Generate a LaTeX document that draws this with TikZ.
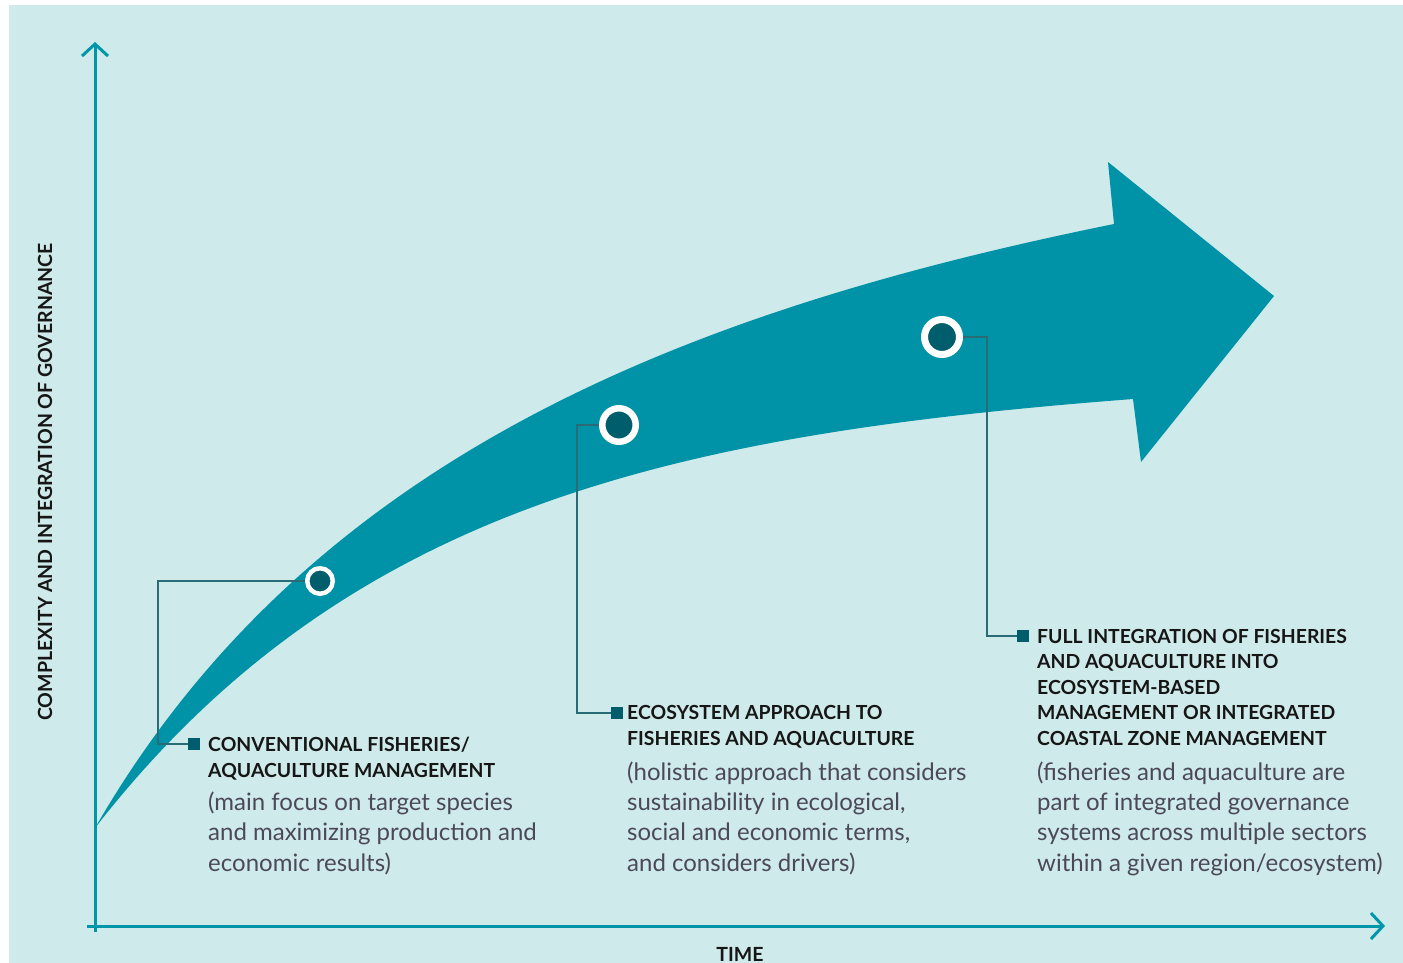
\documentclass[tikz,border=0pt]{standalone}
\usepackage{fontspec}
\setmainfont{Lato}
\usetikzlibrary{arrows.meta, positioning, calc}
\definecolor{bgteal}{HTML}{CFEAEA}
\definecolor{bandteal}{HTML}{0092A6}
\definecolor{axisteal}{HTML}{0096A9}
\definecolor{darkteal}{HTML}{005E6C}
\definecolor{leadteal}{HTML}{2A6C76}
\definecolor{bodygray}{HTML}{4B4959}
\definecolor{titleblack}{HTML}{161616}

\begin{document}
\begin{tikzpicture}[
    x=1pt, y=-1pt,
    axis/.style={line width=3pt, draw=axisteal, -{Straight Barb[length=12pt, width=26pt]}},
    leader/.style={line width=1.4pt, draw=leadteal},
    ring/.style={circle, fill=darkteal, draw=white, inner sep=0pt},
    tag/.style={rectangle, fill=darkteal, minimum size=12pt, inner sep=0pt},
    title/.style={anchor=base west, inner sep=0pt, align=left, text=titleblack, font=\bfseries\fontsize{19.4}{25.5}\selectfont},
    body/.style={anchor=base west, inner sep=0pt, align=left, text=bodygray, font=\fontsize{24}{30.3}\selectfont},
    axislabel/.style={inner sep=0pt, text=titleblack, font=\bfseries\fontsize{19.5}{22}\selectfont}
]
    \useasboundingbox (0,0) rectangle (1403,963);
    \fill[white] (0,0) rectangle (1403,963);
    \fill[bgteal] (9,5) rectangle (1403,963);

    % axes
    \coordinate (ybase) at (95,932);
    \coordinate (ytop) at (95,42);
    \coordinate (xbase) at (87,926);
    \coordinate (xend) at (1385,926);
    \draw[axis] (ybase) -- (ytop);
    \draw[axis] (xbase) -- (xend);
    \node[axislabel, rotate=90] (ylabel) at (45,482) {COMPLEXITY AND INTEGRATION OF GOVERNANCE};
    \node[axislabel, anchor=base] (xlabel) at (740,961) {TIME};

    % curved arrow
    \fill[bandteal] (95,828) .. controls (310,455) and (690,310) .. (1114,224)
        -- (1108,162) -- (1274,296) -- (1141,462) -- (1133,399)
        .. controls (678,434) and (347,504) .. (95,828) -- cycle;

    % stages
    \node[ring, minimum size=25.5pt, line width=4.5pt] (stage1) at (320,581) {};
    \node[ring, minimum size=33.5pt, line width=6.5pt] (stage2) at (619,425) {};
    \node[ring, minimum size=35pt, line width=7pt] (stage3) at (942,337) {};

    \node[tag] (tag1) at (194,744) {};
    \node[tag] (tag2) at (617,713) {};
    \node[tag] (tag3) at (1023,636) {};

    \coordinate (bend1) at (158,744);
    \coordinate (bend2) at (577,713);
    \coordinate (bend3) at (987,636);
    \draw[leader] (stage1.west) -| (bend1) -- (tag1.west);
    \draw[leader] (stage2.west) -| (bend2) -- (tag2.west);
    \draw[leader] (stage3.east) -| (bend3) -- (tag3.west);

    % texts (anchored at the baseline of the last line)
    \node[title] (title1) at (208,777) {CONVENTIONAL FISHERIES/\\AQUACULTURE MANAGEMENT};
    \node[body] (body1) at (208,871) {(main focus on target species\\and maximizing production and\\economic results)};

    \node[title] (title2) at (627,745) {ECOSYSTEM APPROACH TO\\FISHERIES AND AQUACULTURE};
    \node[body] (body2) at (627,871) {(holistic approach that considers\\sustainability in ecological,\\social and economic terms,\\and considers drivers)};

    \node[title] (title3) at (1037,745) {FULL INTEGRATION OF FISHERIES\\AND AQUACULTURE INTO\\ECOSYSTEM-BASED\\MANAGEMENT OR INTEGRATED\\COASTAL ZONE MANAGEMENT};
    \node[body] (body3) at (1037,871) {(fisheries and aquaculture are\\part of integrated governance\\systems across multiple sectors\\within a given region/ecosystem)};
\end{tikzpicture}
\end{document}
